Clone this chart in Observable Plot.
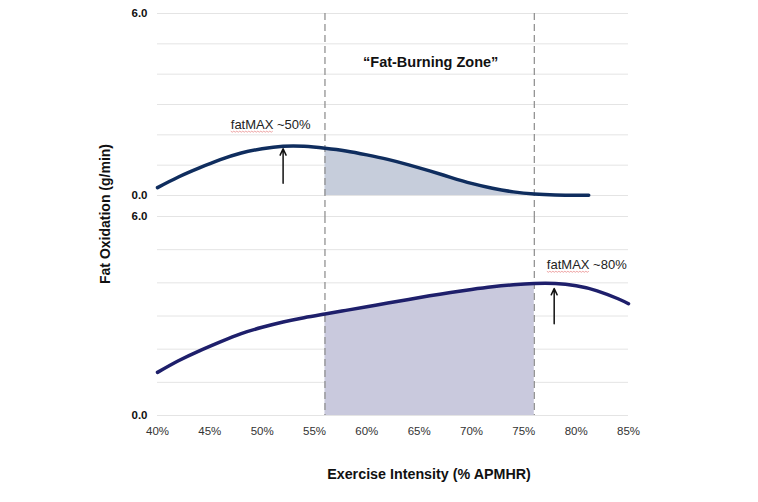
<!DOCTYPE html>
<html>
<head>
<meta charset="utf-8">
<script src="https://cdn.jsdelivr.net/npm/d3@7"></script>
<script src="https://cdn.jsdelivr.net/npm/@observablehq/plot@0.6"></script>
<style>
  html, body { margin: 0; padding: 0; background: #fff; }
  #wrap { position: relative; width: 758px; height: 502px; font-family: "Liberation Sans", Arial, sans-serif; overflow: hidden; }
  #top, #bottom { position: absolute; left: 0; }
  #top { top: 0; }
  #bottom { top: 200px; }
  .ytitle { position: absolute; left: 105px; top: 214px; transform: translate(-50%, -50%) rotate(-90deg); font-weight: bold; font-size: 14px; color: #111; white-space: nowrap; }
  .xtitle { position: absolute; left: 429px; top: 474px; transform: translate(-50%, -50%); font-weight: bold; font-size: 14.3px; color: #111; white-space: nowrap; }
</style>
</head>
<body>
<div id="wrap">
  <div id="top"></div>
  <div id="bottom"></div>
  <div class="ytitle">Fat Oxidation (g/min)</div>
  <div class="xtitle">Exercise Intensity (% APMHR)</div>
</div>
<script>
// ---- data ----
// top panel: fat oxidation curve peaking near 50-54%
const topX = [40, 42, 44, 46, 48, 50, 52, 54, 56, 58, 60, 62, 64, 66, 68, 70, 72, 74, 76, 78, 80, 81.2];
const topY = [0.26, 0.61, 0.91, 1.18, 1.40, 1.54, 1.62, 1.62, 1.56, 1.47, 1.34, 1.19, 1.01, 0.81, 0.60, 0.40, 0.24, 0.12, 0.05, 0.02, 0.01, 0.01];
// bottom panel: fat oxidation curve peaking near 76-78%
const bottomX = [40, 42, 44, 46, 48, 50, 52, 54, 56, 58, 60, 62, 64, 66, 68, 70, 72, 74, 76, 78, 80, 82, 84, 85];
const bottomY = [1.30, 1.65, 1.95, 2.22, 2.47, 2.66, 2.82, 2.95, 3.06, 3.17, 3.28, 3.39, 3.50, 3.61, 3.71, 3.80, 3.88, 3.94, 3.98, 3.98, 3.91, 3.76, 3.52, 3.37];

const zoneBounds = [56, 76];
const xTicks = [40, 45, 50, 55, 60, 65, 70, 75, 80, 85];
const yGrid = [0, 1, 2, 3, 4, 5, 6];
const yLabels = [0, 6];

const topArrow = [{x: 52, y1: 0.40, y2: 1.54}];
const bottomArrow = [{x: 77.9, y1: 2.77, y2: 3.83}];
const topNote = [{x: 47.0, y: 2.34, text: "fatMAX ~50%"}];
const bottomNote = [{x: 77.2, y: 4.55, text: "fatMAX ~80%"}];
const zoneTitle = [{x: 66.1, y: 4.39, text: "\u201cFat-Burning Zone\u201d"}];

const topData = topX.map((x, i) => ({x, y: topY[i]}));
const bottomData = bottomX.map((x, i) => ({x, y: bottomY[i]}));
const inZone = d => d.x >= zoneBounds[0] && d.x <= zoneBounds[1];

const common = {
  width: 758,
  marginLeft: 157,
  marginRight: 130,
  style: {fontFamily: '"Liberation Sans", Arial, sans-serif', background: "transparent", overflow: "visible"}
};

function yAxis() {
  return Plot.axisY(yLabels, {tickSize: 0, tickPadding: 10, tickFormat: d => d.toFixed(1), fontWeight: "bold", fontSize: 11.5, fill: "#111", label: null});
}

const topPlot = Plot.plot({
  ...common,
  height: 200,
  marginTop: 13,
  marginBottom: 5,
  x: {domain: [40, 85], axis: null},
  y: {domain: [0, 6]},
  marks: [
    Plot.gridY(yGrid, {stroke: "#e4e4e4", strokeOpacity: 1}),
    yAxis(),
    Plot.areaY(topData.filter(inZone), {x: "x", y: "y", fill: "#c6cddb", curve: "natural"}),
    Plot.ruleX(zoneBounds, {stroke: "#8a8a8a", strokeDasharray: "7,4", strokeWidth: 1.2, insetBottom: -21}),
    Plot.line(topData, {x: "x", y: "y", stroke: "#0f2d5e", strokeWidth: 3.5, curve: "natural"}),
    Plot.arrow(topArrow, {x1: "x", x2: "x", y1: "y1", y2: "y2", stroke: "#111", strokeWidth: 1.5, headLength: 7, headAngle: 50}),
    Plot.text(topNote, {x: "x", y: "y", text: "text", textAnchor: "start", fontSize: 13, fill: "#222", className: "fatmax"}),
    Plot.text(zoneTitle, {x: "x", y: "y", text: "text", fontSize: 14.5, fontWeight: "bold", fill: "#111"})
  ]
});

const bottomPlot = Plot.plot({
  ...common,
  height: 302,
  marginTop: 16,
  marginBottom: 87,
  x: {domain: [40, 85]},
  y: {domain: [0, 6]},
  marks: [
    Plot.gridY(yGrid, {stroke: "#e4e4e4", strokeOpacity: 1}),
    yAxis(),
    Plot.axisX(xTicks, {tickSize: 0, tickPadding: 11, tickFormat: d => d + "%", fontSize: 11.5, fill: "#333", label: null}),
    Plot.areaY(bottomData.filter(inZone), {x: "x", y: "y", fill: "#c9c9dd", curve: "natural"}),
    Plot.ruleX(zoneBounds, {stroke: "#8a8a8a", strokeDasharray: "7,4", strokeWidth: 1.2}),
    Plot.line(bottomData, {x: "x", y: "y", stroke: "#1e1f6b", strokeWidth: 3.5, curve: "natural"}),
    Plot.arrow(bottomArrow, {x1: "x", x2: "x", y1: "y1", y2: "y2", stroke: "#111", strokeWidth: 1.5, headLength: 7, headAngle: 50}),
    Plot.text(bottomNote, {x: "x", y: "y", text: "text", textAnchor: "start", fontSize: 13, fill: "#222", className: "fatmax"})
  ]
});

document.getElementById("top").appendChild(topPlot);
document.getElementById("bottom").appendChild(bottomPlot);

// spell-check style wavy underline under "fatMAX"
d3.selectAll(".fatmax text").each(function() {
  const s = this.textContent;
  const word = s.split(" ")[0];
  const bb = this.getBBox();
  const w = this.getSubStringLength(0, word.length);
  const y0 = bb.y + bb.height - 0.5;
  const path = d3.path();
  path.moveTo(bb.x, y0);
  let k = 0;
  for (let x = bb.x + 1.5; x <= bb.x + w + 0.1; x += 1.5, k++) {
    path.lineTo(x, y0 + (k % 2 === 0 ? 1 : 0));
  }
  d3.select(this.parentNode).append("path")
    .attr("d", path.toString())
    .attr("transform", this.getAttribute("transform"))
    .attr("fill", "none")
    .attr("stroke", "#e57373")
    .attr("stroke-width", 0.8)
    .attr("stroke-opacity", 0.8);
});
</script>
</body>
</html>
